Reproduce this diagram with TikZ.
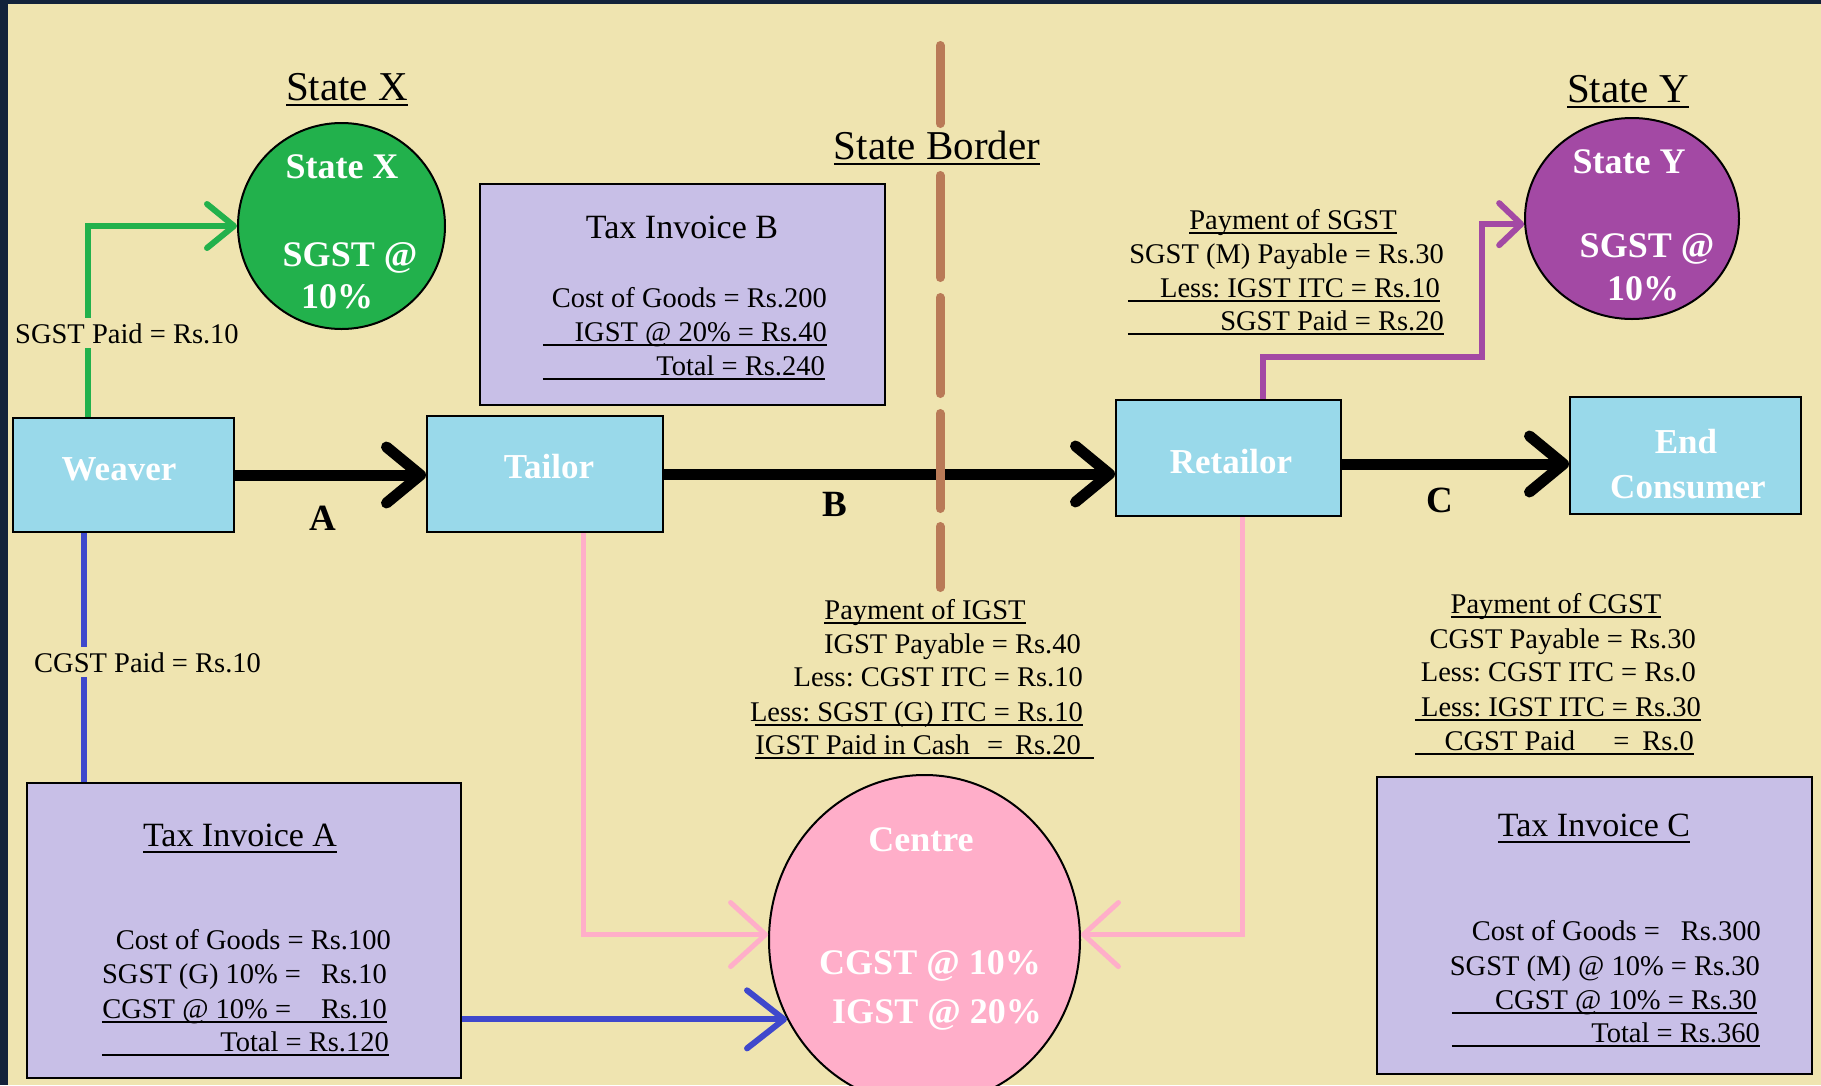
\documentclass[tikz,border=0pt]{standalone}
\usepackage{fontspec}
\setmainfont{Liberation Serif}
\usetikzlibrary{arrows.meta,shapes.geometric,calc}
\frenchspacing

\definecolor{bgcream}{HTML}{EFE4B0}
\definecolor{framedark}{HTML}{13223A}
\definecolor{boxblue}{HTML}{99D9EA}
\definecolor{lav}{HTML}{C8BFE7}
\definecolor{pgreen}{HTML}{22B14C}
\definecolor{ppurple}{HTML}{A349A4}
\definecolor{ppink}{HTML}{FFAEC9}
\definecolor{pblue}{HTML}{3F48CC}
\definecolor{pbrown}{HTML}{B97A57}

\newsavebox\ulsave
% natural-width underline: #1 raise below baseline, #2 thickness, #3 text
\newcommand\ulnat[3]{\sbox\ulsave{#3}\rlap{\rule[-#1pt]{\wd\ulsave}{#2pt}}\usebox\ulsave}
% fixed-width underline, text right aligned
\newcommand\ulwide[2]{\rlap{\rule[-5pt]{#1pt}{1.6pt}}\makebox[#1pt][r]{#2}}

\tikzset{
  txt/.style={inner sep=0pt, font=\fontsize{28.5}{34}\selectfont},
  rl/.style={txt, anchor=base east},
  cl/.style={txt, anchor=base},
  ttl/.style={inner sep=0pt, anchor=base, font=\fontsize{41}{48}\selectfont},
  invt/.style={inner sep=0pt, anchor=base, font=\fontsize{34}{40}\selectfont},
  party/.style={draw=black, line width=2pt, fill=boxblue, rectangle, inner sep=0pt},
  invoice/.style={draw=black, line width=2pt, fill=lav, rectangle, inner sep=0pt},
  govt/.style={draw=black, line width=2pt, ellipse, inner sep=0pt},
  plbl/.style={inner sep=0pt, anchor=base, text=white, font=\bfseries\fontsize{35}{40}\selectfont},
  clbl/.style={inner sep=0pt, anchor=base, text=white, font=\bfseries\fontsize{36}{42}\selectfont},
  abc/.style={inner sep=0pt, anchor=base, font=\bfseries\fontsize{37}{42}\selectfont},
  paidlbl/.style={txt, anchor=base west, fill=bgcream, inner ysep=5pt},
  flow/.style={draw=black, line width=11pt, -{Straight Barb[length=34pt,width=56pt,round]}},
  gline/.style={draw=pgreen, line width=6pt, -{Straight Barb[length=27pt,width=44pt,round]}},
  purl/.style={draw=ppurple, line width=6pt, -{Straight Barb[length=22pt,width=42pt,round]}},
  bline/.style={draw=pblue, line width=6pt},
  barrow/.style={draw=pblue, line width=6pt, -{Straight Barb[length=37pt,width=58pt,round]}},
  pline/.style={draw=ppink, line width=5pt, -{Straight Barb[length=35pt,width=64pt,round]}},
  border/.style={draw=pbrown, line width=9pt, line cap=round},
}

\begin{document}
\begin{tikzpicture}[x=1pt, y=-1pt]
\useasboundingbox (0,0) rectangle (1821,1085);
\clip (0,0) rectangle (1821,1085);
\fill[framedark] (0,0) rectangle (1821,1085);
\fill[bgcream] (7.5,4) rectangle (1821,1085);

% boxes
\node[party, minimum width=221pt, minimum height=114pt] (weaver) at (123.5,475) {};
\node[party, minimum width=236pt, minimum height=116pt] (tailor) at (545,474) {};
\node[party, minimum width=225pt, minimum height=116pt] (retailor) at (1228.5,458) {};
\node[party, minimum width=231pt, minimum height=117pt] (endc) at (1685.5,455.5) {};

\node[invoice, minimum width=434pt, minimum height=295pt] (invA) at (244,930.5) {};
\node[invoice, minimum width=405pt, minimum height=221pt] (invB) at (682.5,294.5) {};
\node[invoice, minimum width=435pt, minimum height=297pt] (invC) at (1594.5,925.5) {};

% governments
\node[govt, fill=pgreen, minimum width=207pt, minimum height=206pt] (sx) at (341.5,226) {};
\node[govt, fill=ppurple, minimum width=214pt, minimum height=201pt] (sy) at (1632,218.5) {};
\node[govt, fill=ppink, minimum width=311pt, minimum height=330pt] (centre) at (924.5,940) {};

% connectors
\coordinate (wg) at ($(weaver.north)+(-35.5,0)$);
\draw[gline] (wg) |- (sx.west);
\coordinate (wb) at ($(weaver.south)+(-39.5,0)$);
\draw[bline] (wb) -- (wb |- invA.north);
\draw[barrow] (centre.210 -| invA.east) -- (centre.210);
\coordinate (tp) at ($(tailor.south)+(38,0)$);
\draw[pline] (tp) |- (centre.178);
\coordinate (rp) at ($(retailor.south)+(13.5,0)$);
\draw[pline] (rp) |- (centre.2);
\coordinate (rq) at ($(retailor.north)+(34.5,0)$);
\coordinate (pbend) at (1482,357);
\draw[purl] (rq) |- (pbend) |- (sy.183);

\draw[flow] (weaver.east) -- (weaver.east -| tailor.west);
\draw[flow] (tailor.east) -- (tailor.east -| retailor.west);
\coordinate (rc) at ($(retailor.east)+(0,6)$);
\draw[flow] (rc) -- (rc -| endc.west);

% state border
\draw[border] (940,45.5) -- (940,123.5);
\draw[border] (940,175.5) -- (940,277.5);
\draw[border] (940,297.5) -- (940,393.5);
\draw[border] (940,413.5) -- (940,508.5);
\draw[border] (940,526.5) -- (940,587.5);

% titles
\node[ttl] (stx) at (347,100) {\ulnat{5.5}{2}{State X}};
\node[ttl] (stb) at (937,159) {\ulnat{5.5}{2}{State Border}};
\node[ttl] (sty) at (1628,102) {\ulnat{5.5}{2}{State Y}};

% circle texts
\node[clbl] (sx1) at (342,178) {State X};
\node[clbl] (sx2) at (350,266) {SGST @};
\node[clbl] (sx3) at (337,308) {10\%};
\node[clbl] (sy1) at (1629,173) {State Y};
\node[clbl] (sy2) at (1647,257) {SGST @};
\node[clbl] (sy3) at (1643,300) {10\%};
\node[clbl] (ce1) at (921,851) {Centre};
\node[clbl] (ce2) at (930,974) {CGST @ 10\%};
\node[clbl] (ce3) at (937,1023) {IGST @ 20\%};

% box labels
\node[plbl] (wl) at (119,480) {Weaver};
\node[plbl] (tl) at (549,478) {Tailor};
\node[plbl] (rl1) at (1231,473) {Retailor};
\node[plbl] (el1) at (1686,453) {End};
\node[plbl] (el2) at (1688,498) {Consumer};

\node[abc] (la) at (323,530) {A};
\node[abc] (lb) at (835,516) {B};
\node[abc] (lc) at (1440,512) {C};

% paid labels
\node[paidlbl] (sgstpaid) at (15,343) {SGST Paid = Rs.10};
\node[paidlbl] (cgstpaid) at (34,672) {CGST Paid = Rs.10};

% invoice B
\node[invt] (tib) at (682,238) {Tax Invoice B};
\node[rl] (tib1) at (827,307) {Cost of Goods = Rs.200};
\node[rl] (tib2) at (827,341) {\ulwide{284}{IGST @ 20\% = Rs.40}};
\node[rl] (tib3) at (825,375) {\ulwide{282}{Total = Rs.240}};

% invoice A
\node[invt] (tia) at (240,846) {\ulnat{6.5}{2}{Tax Invoice A}};
\node[rl] (tia1) at (391,949) {Cost of Goods = Rs.100};
\node[rl] (tia2) at (387,983) {SGST (G) 10\% =\hspace{20pt}Rs.10};
\node[rl] (tia3) at (387,1018) {\ulwide{285}{CGST @ 10\% =\hspace{30pt}Rs.10}};
\node[rl] (tia4) at (389,1051) {\ulwide{287}{Total = Rs.120}};

% invoice C
\node[invt] (tic) at (1594,836) {\ulnat{6.5}{2}{Tax Invoice C}};
\node[rl] (tic1) at (1761,940) {Cost of Goods =\hspace{21pt}Rs.300};
\node[rl] (tic2) at (1760,975) {SGST (M) @ 10\% = Rs.30};
\node[rl] (tic3) at (1757,1009) {\ulwide{305}{CGST @ 10\% = Rs.30}};
\node[rl] (tic4) at (1760,1042) {\ulwide{308}{Total = Rs.360}};

% payment of SGST
\node[cl] (ps0) at (1293,229) {\ulnat{4.8}{1.6}{Payment of SGST}};
\node[rl] (ps1) at (1444,263) {SGST (M) Payable = Rs.30};
\node[rl] (ps2) at (1440,297) {\ulwide{312}{Less: IGST ITC = Rs.10}};
\node[rl] (ps3) at (1444,330) {\ulwide{316}{SGST Paid = Rs.20}};

% payment of IGST
\node[cl] (pi0) at (925,619) {\ulnat{4.8}{1.6}{Payment of IGST}};
\node[rl] (pi1) at (1081,653) {IGST Payable = Rs.40};
\node[rl] (pi2) at (1083,686) {Less: CGST ITC = Rs.10};
\node[rl] (pi3) at (1083,721) {\ulwide{328}{Less: SGST (G) ITC = Rs.10}};
\node[rl] (pi4) at (1094,754) {\ulwide{339}{IGST Paid in Cash\hspace{17pt}=\hspace{12pt}Rs.20\hspace{13pt}}};

% payment of CGST
\node[cl] (pc0) at (1556,613) {\ulnat{4.8}{1.6}{Payment of CGST}};
\node[rl] (pc1) at (1696,648) {CGST Payable = Rs.30};
\node[rl] (pc2) at (1696,681) {Less: CGST ITC = Rs.0};
\node[rl] (pc3) at (1701,716) {\ulwide{286}{Less: IGST ITC = Rs.30}};
\node[rl] (pc4) at (1694,750) {\ulwide{279}{CGST Paid\hspace{38pt}=\hspace{13pt}Rs.0}};
\end{tikzpicture}
\end{document}
